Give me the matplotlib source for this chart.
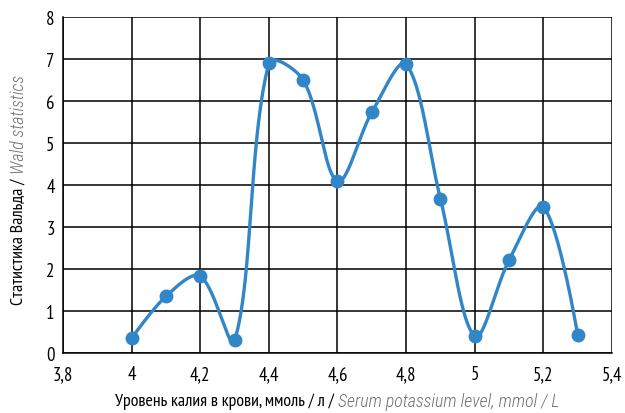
import numpy as np
import matplotlib
matplotlib.use("Agg")
import matplotlib.pyplot as plt

x_vals = [4.0, 4.1, 4.2, 4.3, 4.4, 4.5, 4.6, 4.7, 4.8, 4.9, 5.0, 5.1, 5.2, 5.3]
wald = [0.35, 1.35, 1.83, 0.30, 6.90, 6.50, 4.09, 5.73, 6.88, 3.67, 0.40, 2.21, 3.48, 0.43]
x_ticks = [3.8, 4.0, 4.2, 4.4, 4.6, 4.8, 5.0, 5.2, 5.4]
x_tick_labels = ["3,8", "4", "4,2", "4,4", "4,6", "4,8", "5", "5,2", "5,4"]
y_ticks = [0, 1, 2, 3, 4, 5, 6, 7, 8]
xlabel_ru = "Уровень калия в крови, ммоль / л / "
xlabel_en = "Serum potassium level, mmol / L"
ylabel_ru = "Статистика Вальда / "
ylabel_en = "Wald statistics"

REG = ["PT Sans Narrow", "DejaVu Sans"]
ITA = ["Roboto Condensed", "DejaVu Sans"]
plt.rcParams["font.family"] = REG

COLOR = "#3186c8"
W, H = 625, 414
L, R, T, B = 63, 612, 18, 354


def smooth_px(px, py, n=50):
    """Excel-like smoothed Bezier through points given in pixel space."""
    P = np.column_stack([px, py]).astype(float)
    m = len(P)
    out = [P[0]]
    for i in range(m - 1):
        p0 = P[i - 1] if i > 0 else P[i]
        p1 = P[i]
        p2 = P[i + 1]
        p3 = P[i + 2] if i + 2 < m else P[i + 1]
        d01 = np.linalg.norm(p1 - p0)
        d12 = np.linalg.norm(p2 - p1)
        d23 = np.linalg.norm(p3 - p2)
        c1 = p1 + (p2 - p0) * (d12 / (d01 + d12) / 3 if d01 > 0 else 0)
        c2 = p2 - (p3 - p1) * (d12 / (d12 + d23) / 3 if d23 > 0 else 0)
        t = np.linspace(0, 1, n)[1:, None]
        seg = ((1 - t) ** 3) * p1 + 3 * ((1 - t) ** 2) * t * c1 + 3 * (1 - t) * t ** 2 * c2 + t ** 3 * p2
        out.extend(seg)
    return np.array(out)


fig = plt.figure(figsize=(W / 100, H / 100), dpi=100)
ax = fig.add_axes([L / W, (H - B) / H, (R - L) / W, (B - T) / H])
ax.set_xlim(3.8, 5.4)
ax.set_ylim(0, 8)

fig.canvas.draw()
disp = ax.transData.transform(np.column_stack([x_vals, wald]))
curve = smooth_px(disp[:, 0], disp[:, 1])
curve_data = ax.transData.inverted().transform(curve)
ax.plot(curve_data[:, 0], curve_data[:, 1], color=COLOR, lw=2.4, zorder=3,
        solid_capstyle="round", clip_on=False)
ax.plot(x_vals, wald, "o", color=COLOR, ms=9, zorder=4, clip_on=False)

ax.set_xticks(x_ticks)
ax.set_xticklabels(x_tick_labels)
ax.set_yticks(y_ticks)
ax.grid(True, color="black", lw=1.1)
ax.tick_params(axis="both", length=0, labelsize=13.5)
ax.tick_params(axis="x", pad=9)
ax.tick_params(axis="y", pad=6)
for s in ax.spines.values():
    s.set_color("black")
    s.set_linewidth(1.1)
for s in ["top", "right"]:
    ax.spines[s].set_visible(False)

fig.canvas.draw()
r = fig.canvas.get_renderer()


def two_part(a, b, rotation, target_len, center):
    fs = 12
    t1 = fig.text(0, 0, a, fontsize=fs, rotation=rotation, va="center", ha="center")
    t2 = fig.text(0, 0, b, fontsize=fs, rotation=rotation, va="center", ha="center",
                  style="italic", color="#707070", family=ITA, fontweight=300)
    ext = lambda t: t.get_window_extent(r)
    key = (lambda e: e.width) if rotation == 0 else (lambda e: e.height)
    total = key(ext(t1)) + key(ext(t2))
    fs2 = fs * target_len / total
    t1.set_fontsize(fs2)
    t2.set_fontsize(fs2)
    l1 = key(ext(t1))
    l2 = key(ext(t2))
    start = center[0 if rotation == 0 else 1] - (l1 + l2) / 2
    if rotation == 0:
        t1.set_position(((start + l1 / 2) / W, (H - center[1]) / H))
        t2.set_position(((start + l1 + l2 / 2) / W, (H - center[1]) / H))
    else:
        # start measured from top in pixel coords -> text reads bottom to top
        ybot = H - (center[1] + (l1 + l2) / 2)
        t1.set_position((center[0] / W, (ybot + l1 / 2) / H))
        t2.set_position((center[0] / W, (ybot + l1 + l2 / 2) / H))


two_part(xlabel_ru, xlabel_en, 0, 446, (337, 402))
two_part(ylabel_ru, ylabel_en, 90, 230, (19, 190))

fig.savefig("out.png", dpi=100, facecolor="white")
